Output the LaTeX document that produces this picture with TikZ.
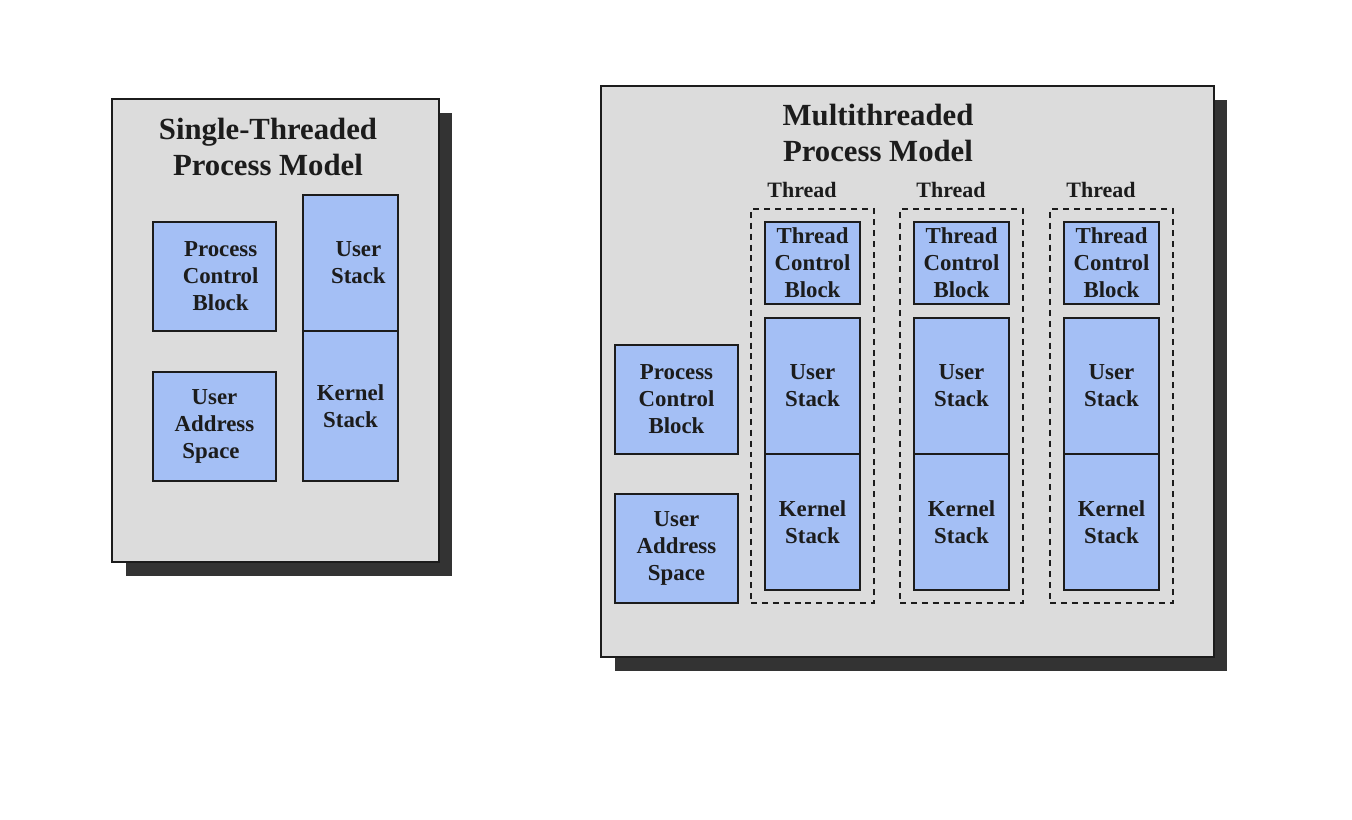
\documentclass[tikz,border=0pt]{standalone}
\usepackage{fontspec}
\setmainfont{Liberation Serif}
\usetikzlibrary{shadows}
\definecolor{panelgray}{RGB}{220,220,220}
\definecolor{boxblue}{RGB}{164,191,245}
\definecolor{inkdark}{RGB}{28,28,28}
\begin{document}
\begin{tikzpicture}[x=0.02cm, y=-0.02cm,
  every node/.style={align=center, text=inkdark, inner sep=0pt, outer sep=0pt},
  panel/.style={draw=inkdark, fill=panelgray, line width=1pt,
                drop shadow={shadow xshift=0.27cm, shadow yshift=-0.28cm, fill=black!80, opacity=1}},
  ptitle/.style={font=\fontsize{17.5}{20}\selectfont\bfseries},
  bluebox/.style={draw=inkdark, fill=boxblue, line width=1pt,
                  font=\fontsize{13}{15.4}\selectfont\bfseries},
  threadbox/.style={draw=inkdark, dash pattern=on 3.4pt off 2.8pt, line width=1pt,
                    minimum width=2.46cm, minimum height=7.88cm},
  tlabel/.style={font=\fontsize{12.5}{14}\selectfont\bfseries}
]
\useasboundingbox[fill=white] (0,0) rectangle (1352,820);

% single-threaded process
\node[panel, minimum width=6.54cm, minimum height=9.26cm] (single) at (275.5,330.5) {};
\node[ptitle] (stitle) at (268,147) {Single-Threaded\\Process Model};
\node[bluebox, minimum width=2.46cm, minimum height=2.18cm] (spcb) at (214.5,276.5)
  {\hspace*{7pt}Process\\\hspace*{7pt}Control\\\hspace*{7pt}Block};
\node[bluebox, minimum width=2.46cm, minimum height=2.18cm] (suas) at (214.5,426.5)
  {User\\Address\\Space\hspace*{4pt}};
\node[bluebox, minimum width=1.9cm, minimum height=2.72cm] (sus) at (350.5,263)
  {\hspace*{9pt}User\\\hspace*{9pt}Stack};
\node[bluebox, minimum width=1.9cm, minimum height=3cm] (sks) at (350.5,406)
  {Kernel\\Stack};

% multithreaded process
\node[panel, minimum width=12.26cm, minimum height=11.42cm] (multi) at (907.5,371.5) {};
\node[ptitle] (mtitle) at (878,133) {Multithreaded\\Process Model};
\node[bluebox, minimum width=2.46cm, minimum height=2.18cm] (mpcb) at (676.5,399.5)
  {Process\\Control\\Block};
\node[bluebox, minimum width=2.46cm, minimum height=2.18cm] (muas) at (676.5,548.5)
  {User\\Address\\Space};

% thread 1
\node[threadbox] (thrA) at (812.5,406) {};
\node[tlabel] (labA) at (802,190) {Thread};
\node[bluebox, minimum width=1.9cm, minimum height=1.64cm] (tcbA) at (812.5,263)
  {Thread\\Control\\Block};
\node[bluebox, minimum width=1.9cm, minimum height=2.72cm] (usA) at (812.5,386) {User\\Stack};
\node[bluebox, minimum width=1.9cm, minimum height=2.72cm] (ksA) at (812.5,522) {Kernel\\Stack};

% thread 2
\node[threadbox] (thrB) at (961.5,406) {};
\node[tlabel] (labB) at (951,190) {Thread};
\node[bluebox, minimum width=1.9cm, minimum height=1.64cm] (tcbB) at (961.5,263)
  {Thread\\Control\\Block};
\node[bluebox, minimum width=1.9cm, minimum height=2.72cm] (usB) at (961.5,386) {User\\Stack};
\node[bluebox, minimum width=1.9cm, minimum height=2.72cm] (ksB) at (961.5,522) {Kernel\\Stack};

% thread 3
\node[threadbox] (thrC) at (1111.5,406) {};
\node[tlabel] (labC) at (1101,190) {Thread};
\node[bluebox, minimum width=1.9cm, minimum height=1.64cm] (tcbC) at (1111.5,263)
  {Thread\\Control\\Block};
\node[bluebox, minimum width=1.9cm, minimum height=2.72cm] (usC) at (1111.5,386) {User\\Stack};
\node[bluebox, minimum width=1.9cm, minimum height=2.72cm] (ksC) at (1111.5,522) {Kernel\\Stack};
\end{tikzpicture}
\end{document}
